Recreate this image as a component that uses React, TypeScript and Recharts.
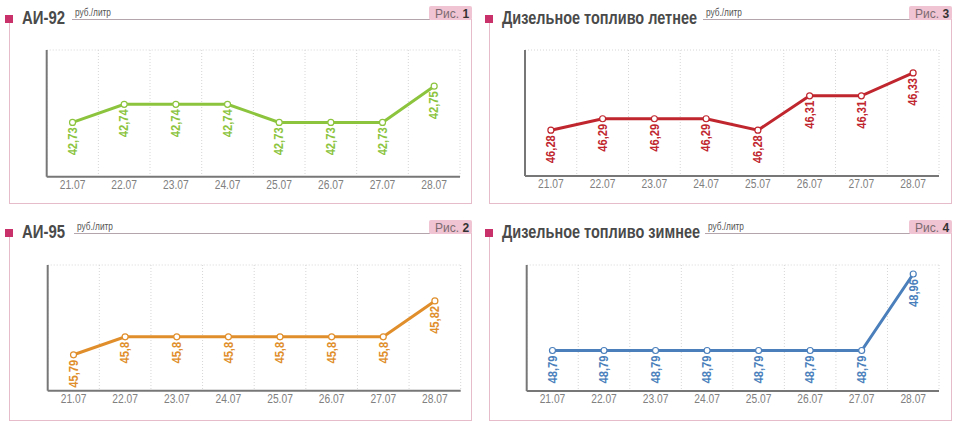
import React, { useLayoutEffect, useRef, useState } from 'react';
import { LineChart, Line, XAxis, YAxis, CartesianGrid, LabelList } from 'recharts';

const dates = ['21.07', '22.07', '23.07', '24.07', '25.07', '26.07', '27.07', '28.07'];

const ai92 = [42.73, 42.74, 42.74, 42.74, 42.73, 42.73, 42.73, 42.75];
const ai95 = [45.79, 45.8, 45.8, 45.8, 45.8, 45.8, 45.8, 45.82];
const dtSummer = [46.28, 46.29, 46.29, 46.29, 46.28, 46.31, 46.31, 46.33];
const dtWinter = [48.79, 48.79, 48.79, 48.79, 48.79, 48.79, 48.79, 48.96];

const ai92Ticks = [42.7, 42.7233, 42.7467, 42.77];
const ai95Ticks = [45.77, 45.7933, 45.8167, 45.84];
const dtSummerTicks = [46.24, 46.2767, 46.3133, 46.35];
const dtWinterTicks = [48.7, 48.7933, 48.8867, 48.98];

const FONT = '"Liberation Sans", Arial, sans-serif';

function FitText(props: {
  x: number;
  y: number;
  width: number;
  fontSize: number;
  fontWeight?: string;
  fill: string;
  children: string;
}) {
  const ref = useRef<SVGTextElement>(null);
  const [k, setK] = useState(0.8);
  useLayoutEffect(() => {
    if (ref.current) {
      const len = ref.current.getComputedTextLength();
      if (len > 0) setK(props.width / len);
    }
  }, [props.width, props.children]);
  return (
    <g transform={`translate(${props.x},${props.y}) scale(${k},1)`}>
      <text
        ref={ref}
        x={0}
        y={0}
        fontSize={props.fontSize}
        fontWeight={props.fontWeight}
        fill={props.fill}
        fontFamily={FONT}
      >
        {props.children}
      </text>
    </g>
  );
}

type PanelProps = {
  left: number;
  top: number;
  title: string;
  titleWidth: number;
  fig: string;
  values: number[];
  ticks: number[];
  color: string;
  unitX: number;
  frameBottom: number;
  margin: { top: number; right: number; left: number; bottom: number };
};

function DateTick(props: any) {
  const { x, y, payload } = props;
  return (
    <g transform={`translate(${x},${y + 12}) scale(0.82,1)`}>
      <text x={0} y={0} textAnchor="middle" fill="#808080" fontSize={12.5} fontFamily={FONT}>
        {payload.value}
      </text>
    </g>
  );
}

function Panel(p: PanelProps) {
  const data = dates.map((d, i) => ({ date: d, v: p.values[i] }));
  const frame = '#e6bccb';
  const renderLabel = (props: any) => {
    const { x, y, value } = props;
    const yy = y + 5;
    return (
      <g transform={`translate(${x},${yy}) rotate(-90) scale(0.86,1)`}>
        <text
          x={0}
          y={0}
          textAnchor="end"
          dominantBaseline="central"
          fill={p.color}
          fontSize={13}
          fontWeight="bold"
          fontFamily={FONT}
        >
          {String(value).replace('.', ',')}
        </text>
      </g>
    );
  };
  return (
    <div style={{ position: 'absolute', left: p.left, top: p.top, width: 480, height: 216 }}>
      <svg width={480} height={216} style={{ position: 'absolute', left: 0, top: 0 }}>
        <rect x={5} y={15} width={8} height={8} fill="#c9316a" />
        <line x1={9.5} y1={23} x2={9.5} y2={p.frameBottom} stroke={frame} strokeWidth={1} />
        <line x1={9} y1={p.frameBottom + 0.5} x2={472} y2={p.frameBottom + 0.5} stroke={frame} strokeWidth={1} />
        <line x1={471.5} y1={19} x2={471.5} y2={p.frameBottom} stroke={frame} strokeWidth={1} />
        <line x1={p.unitX - 3} y1={19.5} x2={430} y2={19.5} stroke="#b4a4ab" strokeWidth={1} />
        <FitText x={22} y={24} width={p.titleWidth} fontSize={18} fontWeight="bold" fill="#4a4a4a">
          {p.title}
        </FitText>
        <FitText x={p.unitX} y={16} width={36} fontSize={10} fill="#555">
          руб./литр
        </FitText>
        <rect x={429} y={6} width={43} height={14} rx={2} fill="#f0c4d3" />
        <text x={435} y={17.5} fontSize={12} fill="#7a6a70" fontFamily={FONT}>
          Рис.{' '}
          <tspan fontWeight="bold" fill="#333">
            {p.fig}
          </tspan>
        </text>
      </svg>
      <div style={{ position: 'absolute', left: 0, top: 0 }}>
        <LineChart width={480} height={216} data={data} margin={p.margin}>
          <CartesianGrid
            stroke="#d6d6d6"
            strokeDasharray="1 2"
            verticalCoordinatesGenerator={({ offset }: any) =>
              Array.from({ length: dates.length + 1 }, (_, i) => offset.left + (i * offset.width) / dates.length)
            }
          />
          <XAxis
            dataKey="date"
            scale="band"
            tickLine={false}
            tickSize={0}
            tickMargin={0}
            height={20}
            axisLine={{ stroke: '#777', strokeWidth: 2 }}
            tick={<DateTick />}
            interval={0}
          />
          <YAxis
            width={1}
            domain={[p.ticks[0], p.ticks[p.ticks.length - 1]]}
            ticks={p.ticks}
            tick={false}
            tickLine={false}
            axisLine={{ stroke: '#777', strokeWidth: 2 }}
          />
          <Line
            dataKey="v"
            stroke={p.color}
            strokeWidth={3}
            isAnimationActive={false}
            dot={{ r: 3, fill: '#fff', stroke: p.color, strokeWidth: 1.2 }}
            activeDot={false}
          >
            <LabelList dataKey="v" content={renderLabel} />
          </Line>
        </LineChart>
      </div>
    </div>
  );
}

export default function App() {
  return (
    <div style={{ position: 'absolute', left: 0, top: 0, width: 960, height: 430, background: '#fff', overflow: 'hidden' }}>
      <Panel
        left={0}
        top={0}
        title="АИ-92"
        titleWidth={43}
        fig="1"
        values={ai92}
        ticks={ai92Ticks}
        color="#8cc43e"
        unitX={75}
        frameBottom={203}
        margin={{ top: 50, right: 20, left: 45.7, bottom: 19.3 }}
      />
      <Panel
        left={480}
        top={0}
        title="Дизельное топливо летнее"
        titleWidth={195}
        fig="3"
        values={dtSummer}
        ticks={dtSummerTicks}
        color="#c0262e"
        unitX={226}
        frameBottom={203}
        margin={{ top: 50, right: 21, left: 44, bottom: 20 }}
      />
      <Panel
        left={0}
        top={214}
        title="АИ-95"
        titleWidth={43}
        fig="2"
        values={ai95}
        ticks={ai95Ticks}
        color="#e08e2b"
        unitX={77}
        frameBottom={206}
        margin={{ top: 51, right: 19.3, left: 46.7, bottom: 19.3 }}
      />
      <Panel
        left={480}
        top={214}
        title="Дизельное топливо зимнее"
        titleWidth={198}
        fig="4"
        values={dtWinter}
        ticks={dtWinterTicks}
        color="#4a7fbc"
        unitX={228}
        frameBottom={206}
        margin={{ top: 51, right: 21, left: 45.7, bottom: 19 }}
      />
    </div>
  );
}
